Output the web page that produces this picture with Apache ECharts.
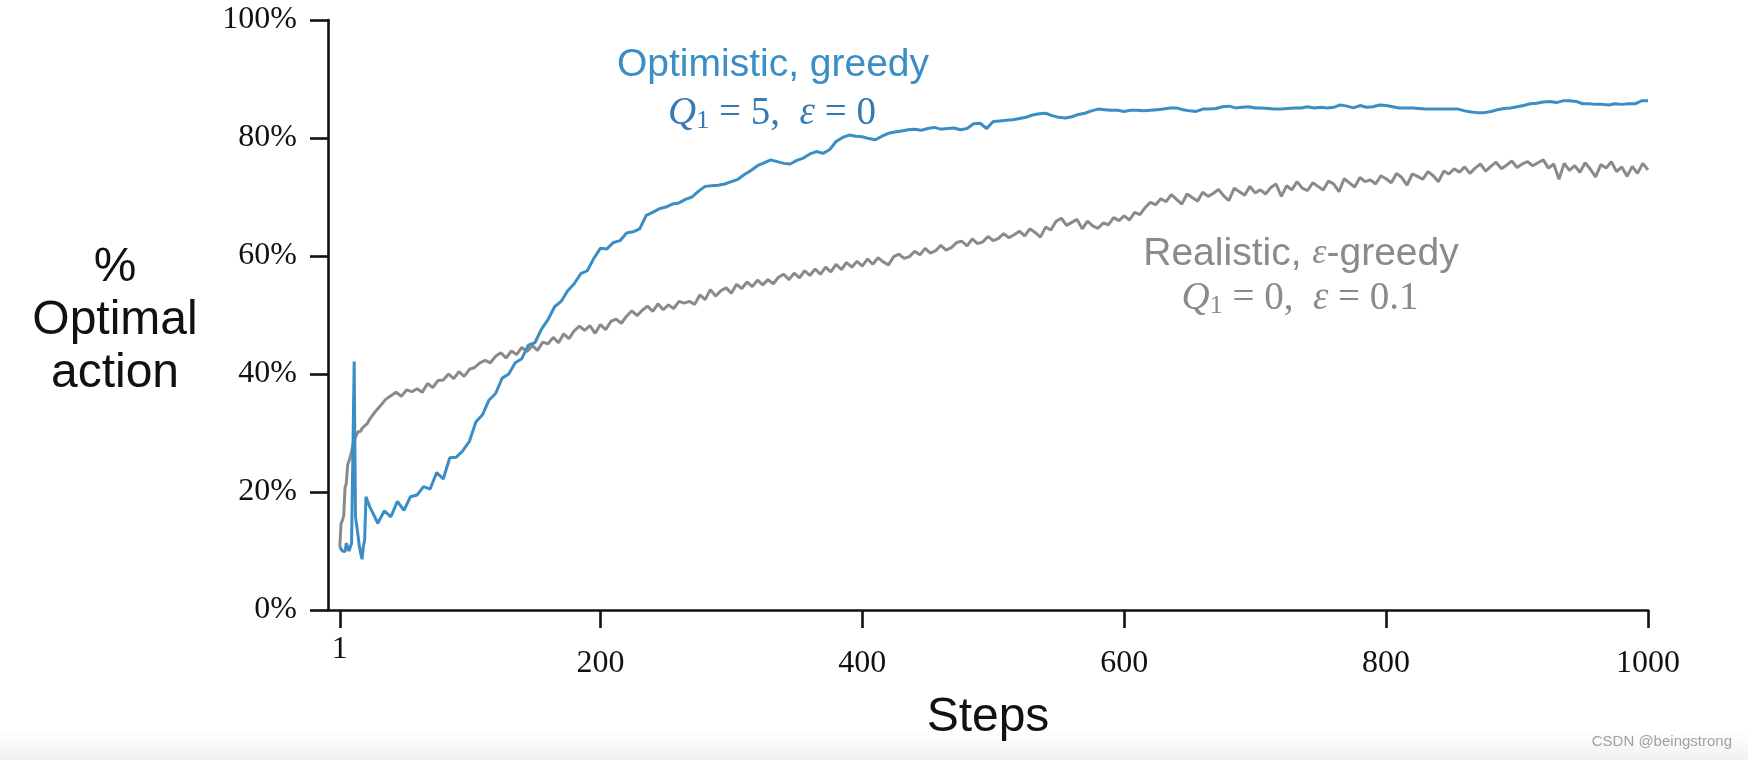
<!DOCTYPE html>
<html>
<head>
<meta charset="utf-8">
<script src="https://cdn.jsdelivr.net/npm/echarts@6/dist/echarts.min.js"></script>
<style>
html,body{margin:0;padding:0;background:#fff;}
#chart{width:1748px;height:760px;}
</style>
</head>
<body>
<div id="chart"></div>
<script>
// ---- data ----
// steps sampled for the optimistic (blue) curve
const optimisticSteps = [
1,2,3,4,5,6,7,8,9,10,11,12,13,14,15,16,17,18,19,20,21,22,23,24,
25,30,35,40,45,50,55,60,65,70,
75,80,85,90,95,100,105,110,115,120,
125,130,135,140,145,150,155,160,165,170,
175,180,185,190,195,200,205,210,215,220,
225,230,235,240,245,250,255,260,265,270,
275,280,285,290,295,300,305,310,315,320,
325,330,335,340,345,350,355,360,365,370,
375,380,385,390,395,400,405,410,415,420,
425,430,435,440,445,450,455,460,465,470,
475,480,485,490,495,500,505,510,515,520,
525,530,535,540,545,550,555,560,565,570,
575,580,585,590,595,600,605,610,615,620,
625,630,635,640,645,650,655,660,665,670,
675,680,685,690,695,700,705,710,715,720,
725,730,735,740,745,750,755,760,765,770,
775,780,785,790,795,800,805,810,815,820,
825,830,835,840,845,850,855,860,865,870,
875,880,885,890,895,900,905,910,915,920,
925,930,935,940,945,950,955,960,965,970,
975,980,985,990,995,1000
];
// Optimistic, greedy (Q1=5, eps=0), % optimal action
const optimisticValues = [
10.7,10.4,10.0,10.2,9.9,11.3,11.0,10.0,10.1,11.3,11.2,42.1,15.8,14.2,12.5,10.7,9.6,8.6,10.8,11.9,19.2,18.6,18.0,17.4,
17.0,14.7,16.8,15.8,18.4,16.9,19.2,19.5,20.9,20.5,
23.3,22.2,25.8,25.9,27.0,28.6,31.9,33.1,35.6,36.7,
39.3,40.0,41.9,42.6,44.9,45.3,47.6,49.2,51.4,52.3,
54.1,55.3,57.0,57.5,59.6,61.3,61.2,62.3,62.6,63.9,
64.1,64.6,66.9,67.4,68.0,68.3,68.8,69.0,69.6,70.0,
71.0,71.8,71.9,72.0,72.2,72.6,73.0,73.8,74.5,75.3,
75.8,76.3,76.0,75.7,75.6,76.2,76.6,77.3,77.7,77.4,
78.0,79.4,80.1,80.5,80.3,80.2,79.9,79.7,80.3,80.8,
81.0,81.2,81.4,81.5,81.3,81.6,81.8,81.5,81.6,81.7,
81.4,81.6,82.4,82.5,81.6,82.8,82.9,83.0,83.1,83.3,
83.5,83.9,84.1,84.2,83.8,83.5,83.4,83.6,84.0,84.2,
84.6,84.9,84.8,84.7,84.7,84.5,84.7,84.7,84.6,84.7,
84.8,84.9,85.1,85.1,84.8,84.6,84.5,84.9,84.9,85.0,
85.3,85.4,85.1,85.2,85.3,85.1,85.1,85.0,84.9,84.9,
85.0,85.1,85.1,85.3,85.1,85.2,85.1,85.2,85.6,85.4,
85.1,85.5,85.2,85.3,85.6,85.5,85.3,85.1,85.1,85.1,
85.0,84.9,84.9,84.9,84.9,84.9,84.9,84.6,84.4,84.3,
84.3,84.5,84.8,85.0,85.1,85.3,85.5,85.8,85.9,86.1,
86.2,86.0,86.3,86.3,86.2,85.8,85.8,85.7,85.7,85.6,
85.8,85.7,85.8,85.8,86.3,86.3
];
// steps sampled for the realistic (gray) curve
const realisticSteps = [
1,2,3,4,5,6,7,8,9,10,11,12,13,14,15,16,17,18,19,20,21,22,23,24,
28,32,36,40,44,48,52,56,60,64,
68,72,76,80,84,88,92,96,100,104,
108,112,116,120,124,128,132,136,140,144,
148,152,156,160,164,168,172,176,180,184,
188,192,196,200,204,208,212,216,220,224,
228,232,236,240,244,248,252,256,260,264,
268,272,276,280,284,288,292,296,300,304,
308,312,316,320,324,328,332,336,340,344,
348,352,356,360,364,368,372,376,380,384,
388,392,396,400,404,408,412,416,420,424,
428,432,436,440,444,448,452,456,460,464,
468,472,476,480,484,488,492,496,500,504,
508,512,516,520,524,528,532,536,540,544,
548,552,556,560,564,568,572,576,580,584,
588,592,596,600,604,608,612,616,620,624,
628,632,636,640,644,648,652,656,660,664,
668,672,676,680,684,688,692,696,700,704,
708,712,716,720,724,728,732,736,740,744,
748,752,756,760,764,768,772,776,780,784,
788,792,796,800,804,808,812,816,820,824,
828,832,836,840,844,848,852,856,860,864,
868,872,876,880,884,888,892,896,900,904,
908,912,916,920,924,928,932,936,940,944,
948,952,956,960,964,968,972,976,980,984,
988,992,996,1000
];
// Realistic, eps-greedy (Q1=0, eps=0.1), % optimal action
const realisticValues = [
10.7,14.7,15.2,16.0,20.7,21.5,24.6,25.2,26.0,26.8,28.0,28.8,29.3,29.8,30.2,30.5,30.3,30.8,30.8,31.2,31.0,31.6,31.9,32.4,
33.6,34.6,35.7,36.3,36.9,36.2,37.3,37.0,37.5,36.9,
38.4,37.7,38.9,39.0,40.0,39.2,40.4,39.6,40.8,41.1,
41.9,42.3,41.9,43.0,43.6,42.7,43.9,43.3,44.5,43.8,
44.8,44.0,45.4,45.1,46.2,45.3,46.8,46.0,47.3,48.1,
47.4,48.2,46.9,48.4,47.5,48.9,49.3,48.6,49.8,50.7,
49.9,50.8,51.5,50.6,51.9,50.9,51.7,51.1,52.3,52.0,
52.3,51.8,53.4,52.6,54.3,53.2,54.1,54.6,53.7,55.2,
54.5,55.6,54.8,55.9,55.1,56.0,55.3,56.4,56.9,56.0,
57.1,56.3,57.5,56.7,57.8,56.9,58.1,57.3,58.6,57.7,
58.9,58.1,59.1,58.3,59.5,58.6,59.7,59.0,58.5,59.9,
60.3,59.6,59.9,60.8,60.2,61.3,60.5,60.9,61.8,61.0,
61.4,62.3,62.5,61.7,62.9,62.1,62.4,63.3,62.6,63.0,
63.8,63.1,63.6,64.2,63.4,64.6,64.0,63.2,64.9,64.4,
65.9,66.4,65.2,65.7,66.2,64.6,65.9,65.1,64.7,65.6,
65.3,66.5,66.0,66.8,66.1,67.4,67.0,68.2,69.1,68.7,
69.7,69.2,70.4,69.6,68.8,70.5,69.9,69.3,70.8,70.1,
70.6,71.3,70.2,69.4,71.5,70.9,70.3,71.8,70.7,71.2,
70.5,71.6,72.2,70.1,71.9,71.2,72.6,71.5,71.1,72.4,
71.8,71.2,72.7,72.2,70.9,73.1,72.4,71.7,73.3,72.6,
72.9,72.2,73.6,73.1,72.4,74.0,73.3,72.0,73.9,73.5,
73.0,74.3,73.6,72.6,74.4,73.9,74.8,74.2,75.1,74.0,
74.9,75.6,74.4,75.2,75.9,74.8,75.4,76.1,75.0,75.6,
76.0,75.3,75.8,76.3,74.9,75.6,73.0,75.7,74.5,75.3,
74.2,75.8,74.7,73.4,75.5,74.9,76.0,74.3,75.1,73.5,
75.2,74.0,75.7,74.6
];
const xTickValues = [1, 200, 400, 600, 800, 1000];

// ---- chart ----
const BLUE = '#3b8dc6';
const GRAY = '#8a8a8a';
const chart = echarts.init(document.getElementById('chart'), null, {renderer: 'canvas'});
const pair = (xs, vals) => xs.map((s, i) => [s, vals[i]]);

const serif = 'Liberation Serif';
const sans = 'Liberation Sans';

chart.setOption({
  animation: false,
  backgroundColor: '#ffffff',
  grid: {left: 328, right: 100, top: 20, bottom: 150, containLabel: false, outerBoundsMode: 'none'},
  xAxis: {
    type: 'value', min: -8, max: 1000,
    name: 'Steps', nameLocation: 'middle', nameGap: 108, nameMoveOverlap: false,
    nameTextStyle: {fontFamily: sans, fontSize: 48, color: '#111', verticalAlign: 'middle'},
    axisLine: {show: true, onZero: false, lineStyle: {color: '#111', width: 2.6}},
    axisTick: {show: true, length: 18, customValues: xTickValues, lineStyle: {color: '#111', width: 2.6}},
    axisLabel: {
      customValues: xTickValues, margin: 24,
      fontFamily: serif, fontSize: 32, color: '#111',
      formatter: (v) => v === 1 ? '{a|1}' : '{b|' + v + '}',
      rich: {
        a: {fontFamily: serif, fontSize: 32, color: '#111'},
        b: {fontFamily: serif, fontSize: 32, color: '#111', padding: [14, 0, 0, 0]}
      }
    },
    splitLine: {show: false}
  },
  yAxis: {
    type: 'value', min: 0, max: 100, interval: 20,
    axisLine: {show: true, onZero: false, lineStyle: {color: '#111', width: 2.6}},
    axisTick: {show: true, length: 18, lineStyle: {color: '#111', width: 2.6}},
    axisLabel: {margin: 31, fontFamily: serif, fontSize: 32, color: '#111', formatter: '{value}%'},
    splitLine: {show: false}
  },
  series: [
    {
      name: 'Realistic, ε-greedy', type: 'line', data: pair(realisticSteps, realisticValues),
      showSymbol: false, symbol: 'none', smooth: false,
      lineStyle: {color: GRAY, width: 3}, z: 2
    },
    {
      name: 'Optimistic, greedy', type: 'line', data: pair(optimisticSteps, optimisticValues),
      showSymbol: false, symbol: 'none', smooth: false,
      lineStyle: {color: BLUE, width: 3}, z: 3
    }
  ],
  graphic: [
    {
      type: 'text', x: 115, y: 321,
      style: {text: '%\nOptimal\naction', fontFamily: sans, fontSize: 48, lineHeight: 53, fill: '#111', align: 'center', verticalAlign: 'middle'}
    },
    {
      type: 'text', x: 773, y: 65,
      style: {text: 'Optimistic, greedy', fontFamily: sans, fontSize: 39, fill: BLUE, align: 'center', verticalAlign: 'middle'}
    },
    {
      type: 'text', x: 772, y: 114,
      style: {
        text: '{q|Q}{s|1}{n| = 5,  }{e|ε}{n| = 0}',
        align: 'center', verticalAlign: 'middle',
        rich: {
          q: {fontFamily: serif, fontStyle: 'italic', fontSize: 39, fill: '#3579b5', lineHeight: 40},
          s: {fontFamily: serif, fontSize: 26, fill: '#3579b5', verticalAlign: 'bottom', lineHeight: 40},
          n: {fontFamily: serif, fontSize: 39, fill: '#3579b5', lineHeight: 40},
          e: {fontFamily: serif, fontStyle: 'italic', fontSize: 39, fill: '#3579b5', lineHeight: 40}
        }
      }
    },
    {
      type: 'text', x: 1301, y: 254,
      style: {
        text: '{t|Realistic, }{e|ε}{t|-greedy}',
        align: 'center', verticalAlign: 'middle',
        rich: {
          t: {fontFamily: sans, fontSize: 39, fill: GRAY, lineHeight: 44},
          e: {fontFamily: serif, fontStyle: 'italic', fontSize: 36, fill: GRAY, lineHeight: 44}
        }
      }
    },
    {
      type: 'text', x: 1300, y: 299,
      style: {
        text: '{q|Q}{s|1}{n| = 0,  }{e|ε}{n| = 0.1}',
        align: 'center', verticalAlign: 'middle',
        rich: {
          q: {fontFamily: serif, fontStyle: 'italic', fontSize: 39, fill: GRAY, lineHeight: 40},
          s: {fontFamily: serif, fontSize: 26, fill: GRAY, verticalAlign: 'bottom', lineHeight: 40},
          n: {fontFamily: serif, fontSize: 39, fill: GRAY, lineHeight: 40},
          e: {fontFamily: serif, fontStyle: 'italic', fontSize: 39, fill: GRAY, lineHeight: 40}
        }
      }
    },
    {
      type: 'rect', shape: {x: 0, y: 730, width: 1748, height: 30}, silent: true, z: -1,
      style: {fill: new echarts.graphic.LinearGradient(0, 0, 0, 1, [{offset: 0, color: '#ffffff'}, {offset: 1, color: '#f1f1f1'}])}
    },
    {
      type: 'text', x: 1732, y: 742,
      style: {text: 'CSDN @beingstrong', fontFamily: sans, fontSize: 15, fill: '#a0a0a0', align: 'right', verticalAlign: 'middle'}
    }
  ]
});
</script>
</body>
</html>
